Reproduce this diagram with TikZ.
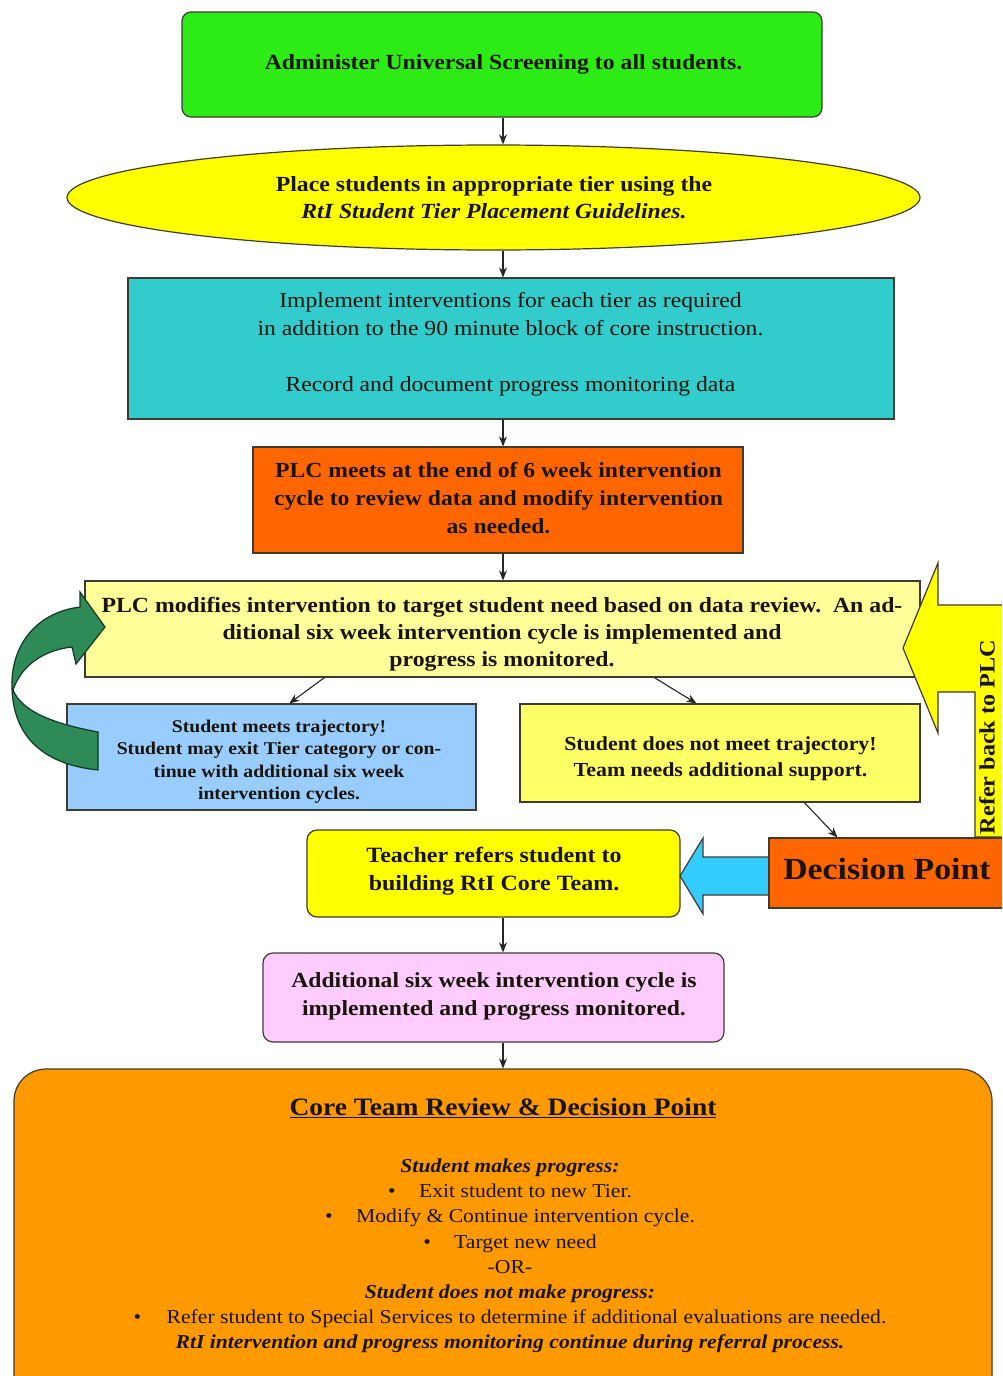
\documentclass[tikz,border=0pt]{standalone}
\usepackage{fontspec}
\setmainfont{Liberation Serif}[FakeStretch=1.1]
\usetikzlibrary{arrows.meta,calc,shapes.geometric}
\definecolor{cgreen}{RGB}{45,235,20}
\definecolor{cyell}{RGB}{255,255,0}
\definecolor{cteal}{RGB}{51,204,204}
\definecolor{corange}{RGB}{255,102,0}
\definecolor{cpale}{RGB}{255,255,153}
\definecolor{cblue}{RGB}{153,204,255}
\definecolor{cyell2}{RGB}{255,255,102}
\definecolor{ccyan}{RGB}{51,204,255}
\definecolor{cpink}{RGB}{255,204,255}
\definecolor{cgold}{RGB}{255,153,0}
\definecolor{cdkgreen}{RGB}{46,139,87}
\definecolor{bordc}{RGB}{60,60,50}
\definecolor{txtc}{RGB}{25,20,10}
\newcommand{\myfs}[2]{\fontsize{#1}{#2}\selectfont}
\begin{document}
\begin{tikzpicture}[x=1pt,y=-1pt,
  box/.style={draw=bordc, line width=1.2pt, inner sep=0pt},
  txt/.style={text=txtc, align=center, inner sep=0pt},
  conn/.style={draw=black!85, line width=1.1pt, -{Stealth[length=10pt,width=8pt]}},
  blockarrow/.style={draw=bordc, line width=1.2pt}]
\useasboundingbox (0,0) rectangle (1002,1376);
\begin{scope}
\clip (0,0) rectangle (1002,1376);
\fill[white] (0,0) rectangle (1002,1376);
\coordinate (col) at (503,0);

% boxes
\node[box, fill=cgreen, rounded corners=9pt, minimum width=640pt, minimum height=105pt] (green) at (502,64.5) {};
\node[box, ellipse, fill=cyell, minimum width=853pt, minimum height=105pt] (ell) at (493.5,197.5) {};
\node[box, fill=cteal, minimum width=766pt, minimum height=141pt] (teal) at (511,348.5) {};
\node[box, fill=corange, minimum width=490pt, minimum height=106pt] (plc) at (498,500) {};
\node[box, fill=cpale, minimum width=835pt, minimum height=96pt] (pale) at (502.5,629) {};
\node[box, fill=cblue, minimum width=409pt, minimum height=106pt] (blue) at (271.5,757) {};
\node[box, fill=cyell2, minimum width=400pt, minimum height=98pt] (yel) at (720,753) {};
\node[box, fill=cyell, rounded corners=10pt, minimum width=373pt, minimum height=87pt] (teach) at (493.5,873.5) {};
\node[box, fill=cpink, rounded corners=10pt, minimum width=461pt, minimum height=89pt] (pink) at (493.5,997.5) {};
\node[box, fill=cgold, rounded corners=32pt, minimum width=978pt, minimum height=360pt] (core) at (503,1249) {};

% texts
\node[txt, font=\myfs{21.6}{27}\bfseries] (t-green) at (503.5,64)
  {Administer Universal Screening to all students.};
\node[txt, font=\myfs{21.6}{27}\bfseries] (t-ell) at (494,197.5)
  {Place students in appropriate tier using the\\ \textit{RtI Student Tier Placement Guidelines.}};
\node[txt, font=\myfs{21.5}{28}] (t-teal) at (510.5,344)
  {Implement interventions for each tier as required\\ in addition to the 90 minute block of core instruction.\\[28pt] Record and document progress monitoring data};
\node[txt, font=\myfs{21.5}{28}\bfseries] (t-plc) at (498.5,498.5)
  {PLC meets at the end of 6 week intervention\\ cycle to review data and modify intervention\\ as needed.};
\node[txt, font=\myfs{21.6}{27}\bfseries] (t-pale) at (502,634)
  {PLC modifies intervention to target student need based on data review.\ \ An ad-\\ ditional six week intervention cycle is implemented and\\ progress is monitored.};
\node[txt, font=\myfs{17.9}{22.5}\bfseries] (t-blue) at (279,761.5)
  {Student meets trajectory!\\ Student may exit Tier category or con-\\ tinue with additional six week\\ intervention cycles.};
\node[txt, font=\myfs{19.9}{26}\bfseries] (t-yel) at (720.5,759)
  {Student does not meet trajectory!\\ Team needs additional support.};
\node[txt, font=\myfs{21.8}{28}\bfseries] (t-teach) at (494,871)
  {Teacher refers student to\\ building RtI Core Team.};
\node[txt, font=\myfs{21.5}{28}\bfseries] (t-pink) at (494,996)
  {Additional six week intervention cycle is\\ implemented and progress monitored.};
\node[txt, font=\myfs{25}{30}\bfseries] (coretitle) at (503,1108)
  {\underline{Core Team Review \& Decision Point}};
\node[txt, font=\myfs{19.7}{25.2}] (corebody) at (510,1256)
  {\textbf{\textit{Student makes progress:}}\\
   \makebox[31pt][l]{•}Exit student to new Tier.\\
   \makebox[31pt][l]{•}Modify \& Continue intervention cycle.\\
   \makebox[31pt][l]{•}Target new need\\
   -OR-\\
   \textbf{\textit{Student does not make progress:}}\\
   \makebox[33pt][l]{•}Refer student to Special Services to determine if additional evaluations are needed.\\
   \textbf{\textit{RtI intervention and progress monitoring continue during referral process.}}};

% yellow bent arrow "Refer back to PLC"
\draw[blockarrow, fill=cyell] (1012,837) -- (975,837) -- (975,692) -- (938,692) -- (938,733)
  -- (903,648) -- (938,563) -- (938,605) -- (1012,605) -- cycle;
\node[txt, rotate=90, anchor=north, font=\myfs{22}{26}\bfseries] (refer) at (979,737)
  {Refer back to PLC};

% cyan arrow
\draw[blockarrow, fill=ccyan] (772,857) -- (703,857) -- (703,838) -- (680,876) -- (703,914)
  -- (703,895) -- (772,895) -- cycle;

\node[box, fill=corange, minimum width=243pt, minimum height=70pt] (dec) at (890.5,873) {};
\node[txt, font=\myfs{30.7}{34}\bfseries] (t-dec) at (887,869) {Decision Point};

% green curved arrow
\draw[draw=black!60!cdkgreen, line width=1.2pt, fill=cdkgreen]
  (98,732) .. controls (55,724) and (22,712) .. (13,690)
  .. controls (22,664) and (45,650) .. (72,647)
  -- (76,664) -- (105,627) -- (80,592) -- (80,607)
  .. controls (40,612) and (14,640) .. (12,680)
  .. controls (10,742) and (50,765) .. (98,770) -- cycle;

% connectors
\draw[conn] (green.south -| col) -- (ell.north -| col);
\draw[conn] (ell.south -| col) -- (teal.north -| col);
\draw[conn] (teal.south -| col) -- (plc.north -| col);
\draw[conn] (plc.south -| col) -- (pale.north -| col);
\draw[conn] ($(pale.south west)+(240,0)$) -- ($(blue.north west)+(223,0)$);
\draw[conn] ($(pale.south west)+(570,0)$) -- ($(yel.north west)+(177,0)$);
\draw[conn] ($(yel.south west)+(285,0)$) -- ($(dec.north west)+(69,0)$);
\draw[conn] (teach.south -| col) -- (pink.north -| col);
\draw[conn] (pink.south -| col) -- (core.north -| col);
\end{scope}
\end{tikzpicture}
\end{document}
